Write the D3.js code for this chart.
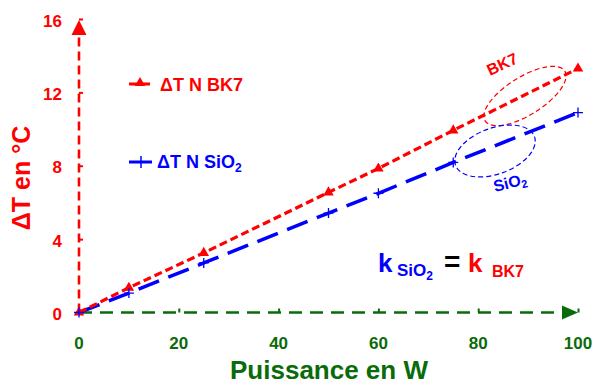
<!DOCTYPE html>
<html><head><meta charset="utf-8">
<script src="https://cdn.jsdelivr.net/npm/d3@7"></script>
<style>body{margin:0;background:#fff}svg{display:block;font-family:"Liberation Sans",Arial,sans-serif;font-weight:bold}</style>
</head><body><svg id="c" width="596" height="385"></svg>
<script>
const power = [0, 10, 25, 50, 60, 75, 100];
const dtBK7 = [0, 1.35, 3.25, 6.55, 7.85, 9.93, 13.3];
const dtSiO2 = [0, 1.06, 2.7, 5.42, 6.5, 8.18, 10.9];
const xTicks = [0, 20, 40, 60, 80, 100];
const yTicks = [0, 4, 8, 12, 16];

const RED = "#ff0000", BLUE = "#0000ff", GREEN = "#0a6b0a";
const svg = d3.select("#c");
const x = d3.scaleLinear().domain([0, 100]).range([79, 578]);
const y = d3.scaleLinear().domain([0, 16]).range([312.5, 19]);

// axes lines
svg.append("line").attr("x1", x(0)).attr("x2", x(0)).attr("y1", y(0)).attr("y2", y(16) + 14)
  .attr("stroke", RED).attr("stroke-width", 2.6).attr("stroke-dasharray", "9,5");
svg.append("path").attr("d", `M${x(0)},${y(16) + 1} L${x(0) - 7.5},${y(16) + 16} L${x(0) + 7.5},${y(16) + 16}Z`).attr("fill", RED);
svg.append("line").attr("x1", x(0)).attr("x2", x(100) - 14).attr("y1", y(0)).attr("y2", y(0))
  .attr("stroke", GREEN).attr("stroke-width", 2.6).attr("stroke-dasharray", "13,8");
svg.append("path").attr("d", `M${x(100)},${y(0)} L${x(100) - 16},${y(0) - 7} L${x(100) - 16},${y(0) + 7}Z`).attr("fill", GREEN);

// ticks
const yAxis = d3.axisRight(y).tickValues(yTicks).tickSize(4).tickFormat("");
const gy = svg.append("g").attr("transform", `translate(${x(0)},0)`).call(yAxis);
gy.select(".domain").remove();
gy.selectAll(".tick line").attr("stroke", RED).attr("stroke-width", 2);
const xAxis = d3.axisTop(x).tickValues(xTicks.slice(1)).tickSize(4).tickFormat("");
const gx = svg.append("g").attr("transform", `translate(0,${y(0)})`).call(xAxis);
gx.select(".domain").remove();
gx.selectAll(".tick line").attr("stroke", GREEN).attr("stroke-width", 2);

// tick labels
svg.selectAll(".ytl").data(yTicks).join("text").attr("class", "ytl")
  .attr("x", 62).attr("y", d => y(d) + 7.5).attr("text-anchor", "end")
  .attr("fill", RED).attr("font-size", 17).text(d => d);
svg.selectAll(".xtl").data(xTicks).join("text").attr("class", "xtl")
  .attr("x", d => x(d)).attr("y", 349).attr("text-anchor", "middle")
  .attr("fill", GREEN).attr("font-size", 17).text(d => d);

// titles
svg.append("text").attr("transform", "translate(30,178) rotate(-90)").attr("text-anchor", "middle")
  .attr("fill", RED).attr("font-size", 25).text("ΔT en °C");
svg.append("text").attr("x", 329).attr("y", 379).attr("text-anchor", "middle")
  .attr("fill", GREEN).attr("font-size", 26).text("Puissance en W");

// ellipses
svg.append("ellipse").attr("cx", 0).attr("cy", 0).attr("rx", 47).attr("ry", 19)
  .attr("transform", "translate(525,96) rotate(-32)")
  .attr("fill", "none").attr("stroke", RED).attr("stroke-width", 1.2).attr("stroke-dasharray", "5,3");
svg.append("ellipse").attr("cx", 0).attr("cy", 0).attr("rx", 42).attr("ry", 23)
  .attr("transform", "translate(495,151) rotate(-20)")
  .attr("fill", "none").attr("stroke", BLUE).attr("stroke-width", 1.2).attr("stroke-dasharray", "5,3");

// lines
const line = d3.line().x((d, i) => x(power[i])).y(d => y(d));
svg.append("path").datum(dtSiO2).attr("d", line).attr("fill", "none").attr("stroke", BLUE)
  .attr("stroke-width", 3.5).attr("stroke-dasharray", "22,10");
svg.append("path").datum(dtBK7).attr("d", line).attr("fill", "none").attr("stroke", RED)
  .attr("stroke-width", 3.2).attr("stroke-dasharray", "8,4");

// markers
const tri = d3.symbol().type(d3.symbolTriangle).size(48);
svg.selectAll(".mb").data(dtBK7).join("path").attr("class", "mb")
  .attr("transform", (d, i) => `translate(${x(power[i])},${y(d)})`).attr("d", tri).attr("fill", RED);
svg.selectAll(".ms").data(dtSiO2).join("path").attr("class", "ms")
  .attr("transform", (d, i) => `translate(${x(power[i])},${y(d)})`)
  .attr("d", "M-5,0H5M0,-5V5").attr("stroke", BLUE).attr("stroke-width", 1.3);

// legend
svg.append("line").attr("x1", 129).attr("x2", 150).attr("y1", 84).attr("y2", 84).attr("stroke", RED).attr("stroke-width", 3);
svg.append("path").attr("transform", "translate(140,83)").attr("d", tri).attr("fill", RED);
svg.append("text").attr("x", 160).attr("y", 91).attr("fill", RED).attr("font-size", 18).text("ΔT N BK7");
svg.append("line").attr("x1", 129).attr("x2", 152).attr("y1", 162).attr("y2", 162).attr("stroke", BLUE).attr("stroke-width", 3);
svg.append("line").attr("x1", 141).attr("x2", 141).attr("y1", 156).attr("y2", 168).attr("stroke", BLUE).attr("stroke-width", 1.5);
const lt = svg.append("text").attr("x", 157).attr("y", 168).attr("fill", BLUE).attr("font-size", 18);
lt.append("tspan").text("ΔT N SiO");
lt.append("tspan").attr("font-size", 12).attr("dy", 4).text("2");

// ellipse labels
svg.append("text").attr("transform", "translate(490,76) rotate(-25)").attr("fill", RED).attr("font-size", 16).text("BK7");
const sl = svg.append("text").attr("transform", "translate(495,192) rotate(-14)").attr("fill", BLUE).attr("font-size", 16);
sl.append("tspan").text("SiO");
sl.append("tspan").attr("font-size", 11).attr("dy", 3).text("2");

// equation
svg.append("text").attr("x", 378).attr("y", 272).attr("font-size", 26).attr("fill", BLUE).text("k");
const s1 = svg.append("text").attr("x", 397).attr("y", 276).attr("font-size", 17).attr("fill", BLUE);
s1.append("tspan").text("SiO");
s1.append("tspan").attr("font-size", 12).attr("dy", 4).text("2");
svg.append("text").attr("x", 444).attr("y", 271).attr("font-size", 28).attr("fill", "#000").text("=");
svg.append("text").attr("x", 468).attr("y", 272).attr("font-size", 26).attr("fill", RED).text("k");
svg.append("text").attr("x", 492).attr("y", 277).attr("font-size", 16).attr("fill", RED).text("BK7");
</script></body></html>
